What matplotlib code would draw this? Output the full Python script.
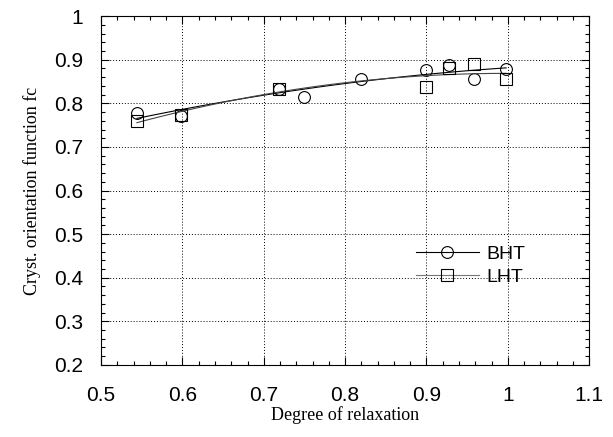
import numpy as np
import matplotlib
matplotlib.use("Agg")
import matplotlib.pyplot as plt
from matplotlib.ticker import MultipleLocator

# degree of relaxation vs crystal orientation function
bht_x = [0.544, 0.598, 0.719, 0.75, 0.819, 0.899, 0.928, 0.959, 0.998]
bht_y = [0.778, 0.770, 0.832, 0.815, 0.857, 0.877, 0.888, 0.857, 0.879]
lht_x = [0.544, 0.598, 0.719, 0.899, 0.928, 0.959, 0.998]
lht_y = [0.760, 0.773, 0.833, 0.838, 0.880, 0.890, 0.855]

xticks = [0.5, 0.6, 0.7, 0.8, 0.9, 1.0, 1.1]
xticklabels = ['0.5', '0.6', '0.7', '0.8', '0.9', '1', '1.1']
yticks = [0.2, 0.3, 0.4, 0.5, 0.6, 0.7, 0.8, 0.9, 1.0]
yticklabels = ['0.2', '0.3', '0.4', '0.5', '0.6', '0.7', '0.8', '0.9', '1']

fig = plt.figure(figsize=(6.13, 4.37), dpi=100)
ax = fig.add_axes([0.165, 0.165, 0.796, 0.798])

# quadratic fit curves through each series
for xs, ys, col, mk in [(bht_x, bht_y, 'black', 'o'),
                        (lht_x, lht_y, '#444444', 's')]:
    c = np.polyfit(xs, ys, 2)
    xx = np.linspace(min(xs), max(xs), 100)
    ax.plot(xx, np.polyval(c, xx), color=col, lw=0.8)
    ax.plot(xs, ys, linestyle='none', marker=mk, ms=8.5, mfc='none',
            mec='black', mew=0.8)

# legend proxies
h1, = ax.plot([], [], color='black', lw=0.8, marker='o', ms=8.5, mfc='none', mec='black', mew=0.8)
h2, = ax.plot([], [], color='#777777', lw=0.8, marker='s', ms=8.5, mfc='none', mec='black', mew=0.8)
ax.legend([h1, h2], ['BHT', 'LHT'], loc='center left', bbox_to_anchor=(0.61, 0.285),
          frameon=False, handlelength=3.2, handletextpad=0.4,
          labelspacing=0.3, prop={'family': 'Liberation Sans', 'size': 14})

ax.set_xlim(0.5, 1.1)
ax.set_ylim(0.2, 1.0)
ax.set_xticks(xticks)
ax.set_xticklabels(xticklabels)
ax.set_yticks(yticks)
ax.set_yticklabels(yticklabels)
ax.xaxis.set_minor_locator(MultipleLocator(0.02))
ax.yaxis.set_minor_locator(MultipleLocator(0.02))
ax.tick_params(which='both', direction='in', top=True, right=True, width=0.8)
ax.tick_params(which='major', length=6, labelsize=15)
ax.tick_params(axis='x', which='major', pad=15)
ax.tick_params(axis='y', which='major', pad=13)
ax.tick_params(which='minor', length=3)
for lbl in ax.get_xticklabels() + ax.get_yticklabels():
    lbl.set_family('Liberation Sans')
ax.grid(True, which='major', linestyle=(0, (1, 2)), color='black', lw=0.7)
for s in ax.spines.values():
    s.set_linewidth(0.8)

ax.set_xlabel('Degree of relaxation', family='Liberation Serif', fontsize=13, labelpad=1)
ax.set_ylabel('Cryst. orientation function fc', family='Liberation Serif', fontsize=13, labelpad=9)

fig.savefig('out.png', dpi=100)
